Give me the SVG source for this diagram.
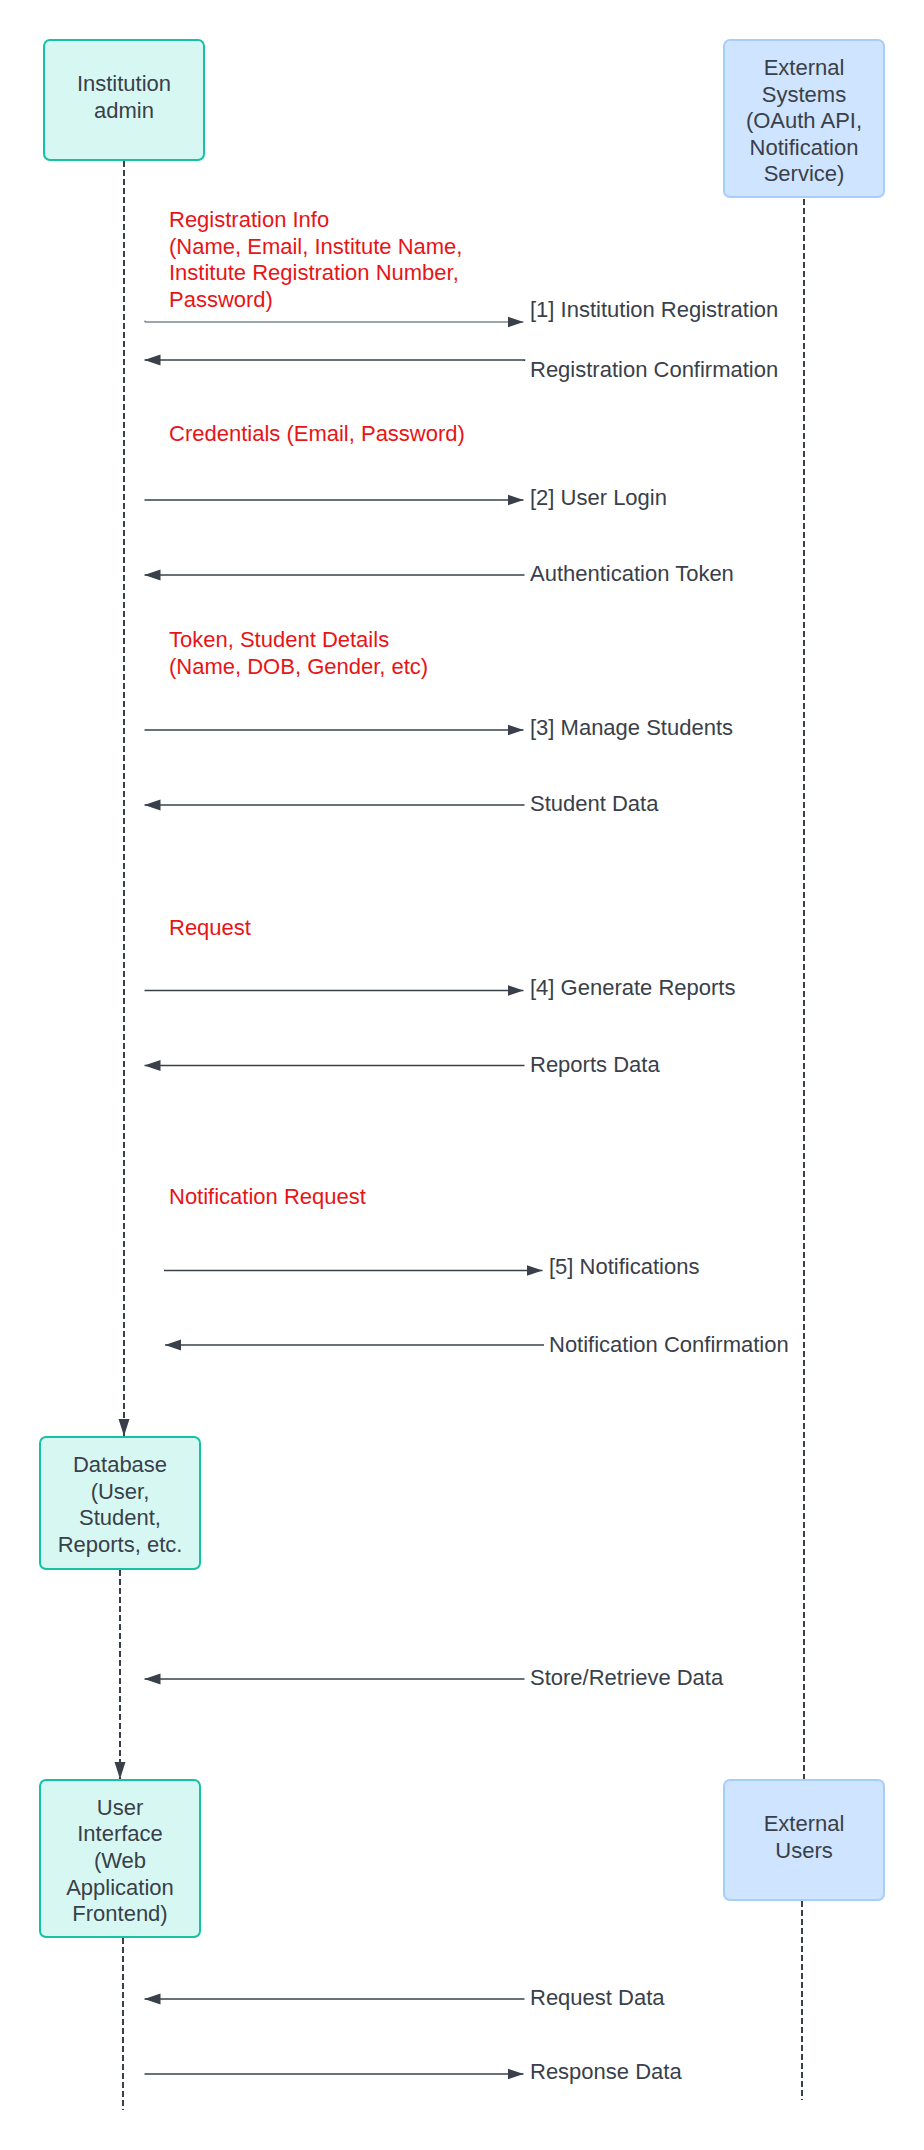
<svg xmlns="http://www.w3.org/2000/svg" width="924" height="2150" viewBox="0 0 924 2150">
<style>
  text { font-family: "Liberation Sans", Arial, sans-serif; font-size: 22px; fill: #39404a; }
  .red { fill: #e81416; }
  .mid { text-anchor: middle; }
  .teal { fill: #d7f8f2; stroke: #14c3a5; stroke-width: 2; }
  .blue { fill: #cfe4ff; stroke: #a9cdfb; stroke-width: 2; }
  .life { fill: none; stroke: #39404a; stroke-width: 2; stroke-dasharray: 6 3; }
  .msg { fill: none; stroke: #39404a; stroke-width: 1.5; }
</style>
<defs>
  <marker id="ah" viewBox="0 0 16 12" refX="16" refY="6" markerWidth="16" markerHeight="12" orient="auto" markerUnits="userSpaceOnUse">
    <path d="M0,0.5 L16,6 L0,11.5 z" fill="#39404a"/>
  </marker>
  <marker id="ahl" viewBox="0 0 18 12" refX="17" refY="6" markerWidth="18" markerHeight="12" orient="auto" markerUnits="userSpaceOnUse">
    <path d="M0,0.5 L17,6 L0,11.5 z" fill="#39404a"/>
  </marker>
</defs>

<g id="connectors">
  <!-- lifelines -->
  <line class="life" x1="124" y1="161" x2="124" y2="1436" marker-end="url(#ahl)"/>
  <line class="life" x1="120" y1="1570" x2="120" y2="1779" marker-end="url(#ahl)"/>
  <line class="life" x1="123" y1="1938" x2="123" y2="2110"/>
  <line class="life" x1="804" y1="199" x2="804" y2="1780"/>
  <line class="life" x1="802" y1="1901" x2="802" y2="2100"/>

  <!-- messages -->
  <path class="msg" d="M144.5,320.8 L145.5,322 L523.5,322" stroke="#80868d" style="stroke:#80868d" marker-end="url(#ah)"/>
  <path class="msg" d="M524.5,361 L524.5,360 L144.5,360" marker-end="url(#ah)"/>
  <line class="msg" x1="144.5" y1="500" x2="523.5" y2="500" marker-end="url(#ah)"/>
  <line class="msg" x1="524.5" y1="575" x2="144.5" y2="575" marker-end="url(#ah)"/>
  <line class="msg" x1="144.5" y1="730" x2="523.5" y2="730" marker-end="url(#ah)"/>
  <line class="msg" x1="524.5" y1="805" x2="144.5" y2="805" marker-end="url(#ah)"/>
  <line class="msg" x1="144.5" y1="990.5" x2="523.5" y2="990.5" marker-end="url(#ah)"/>
  <line class="msg" x1="524.5" y1="1065.5" x2="144.5" y2="1065.5" marker-end="url(#ah)"/>
  <line class="msg" x1="164" y1="1270.5" x2="542.5" y2="1270.5" marker-end="url(#ah)"/>
  <line class="msg" x1="544" y1="1345" x2="165" y2="1345" marker-end="url(#ah)"/>
  <line class="msg" x1="524.5" y1="1679" x2="144.5" y2="1679" marker-end="url(#ah)"/>
  <line class="msg" x1="524.5" y1="1999" x2="144.5" y2="1999" marker-end="url(#ah)"/>
  <line class="msg" x1="144.5" y1="2074" x2="523.5" y2="2074" marker-end="url(#ah)"/>

  <!-- message labels -->
  <text x="530" y="317">[1] Institution Registration</text>
  <text x="530" y="377">Registration Confirmation</text>
  <text x="530" y="505">[2] User Login</text>
  <text x="530" y="581">Authentication Token</text>
  <text x="530" y="735">[3] Manage Students</text>
  <text x="530" y="811">Student Data</text>
  <text x="530" y="995">[4] Generate Reports</text>
  <text x="530" y="1072">Reports Data</text>
  <text x="549" y="1274">[5] Notifications</text>
  <text x="549" y="1352">Notification Confirmation</text>
  <text x="530" y="1685">Store/Retrieve Data</text>
  <text x="530" y="2005">Request Data</text>
  <text x="530" y="2079">Response Data</text>

  <!-- data labels -->
  <text class="red" x="169" y="227">Registration Info</text>
  <text class="red" x="169" y="253.5">(Name, Email, Institute Name,</text>
  <text class="red" x="169" y="280">Institute Registration Number,</text>
  <text class="red" x="169" y="306.5">Password)</text>
  <text class="red" x="169" y="441">Credentials (Email, Password)</text>
  <text class="red" x="169" y="647">Token, Student Details</text>
  <text class="red" x="169" y="673.5">(Name, DOB, Gender, etc)</text>
  <text class="red" x="169" y="935">Request</text>
  <text class="red" x="169" y="1204">Notification Request</text>
</g>

<g id="institution-admin">
  <rect class="teal" x="44" y="40" width="160" height="120" rx="6"/>
  <text class="mid" x="124" y="91">Institution</text>
  <text class="mid" x="124" y="118">admin</text>
</g>

<g id="external-systems">
  <rect class="blue" x="724" y="40" width="160" height="157" rx="6"/>
  <text class="mid" x="804" y="75">External</text>
  <text class="mid" x="804" y="101.5">Systems</text>
  <text class="mid" x="804" y="128">(OAuth API,</text>
  <text class="mid" x="804" y="155">Notification</text>
  <text class="mid" x="804" y="181">Service)</text>
</g>

<g id="database">
  <rect class="teal" x="40" y="1437" width="160" height="132" rx="6"/>
  <text class="mid" x="120" y="1472">Database</text>
  <text class="mid" x="120" y="1498.5">(User,</text>
  <text class="mid" x="120" y="1525">Student,</text>
  <text class="mid" x="120" y="1552">Reports, etc.</text>
</g>

<g id="user-interface">
  <rect class="teal" x="40" y="1780" width="160" height="157" rx="6"/>
  <text class="mid" x="120" y="1814.5">User</text>
  <text class="mid" x="120" y="1841">Interface</text>
  <text class="mid" x="120" y="1868">(Web</text>
  <text class="mid" x="120" y="1894.5">Application</text>
  <text class="mid" x="120" y="1921">Frontend)</text>
</g>

<g id="external-users">
  <rect class="blue" x="724" y="1780" width="160" height="120" rx="6"/>
  <text class="mid" x="804" y="1831">External</text>
  <text class="mid" x="804" y="1858">Users</text>
</g>
</svg>
